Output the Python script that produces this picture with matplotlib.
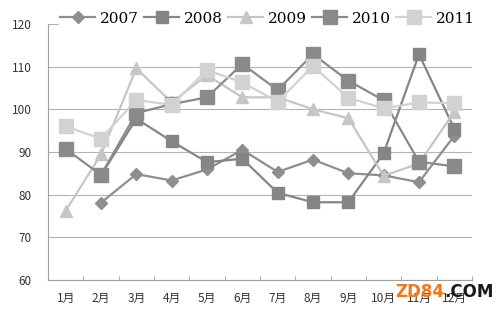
import numpy as np
import matplotlib.pyplot as plt

plt.rcParams['font.family'] = ['Noto Sans CJK SC', 'DejaVu Sans']

months = ['1月', '2月', '3月', '4月', '5月', '6月', '7月', '8月', '9月', '10月', '11月', '12月']
nan = np.nan
s2007 = [nan, 78.1, 84.8, 83.3, 85.9, 90.5, 85.3, 88.2, 85.0, 84.5, 82.9, 93.8]
s2008 = [nan, 84.5, 97.8, 92.5, 87.6, 88.4, 80.4, 78.2, 78.2, 89.7, 112.9, 95.4]
s2009 = [76.2, 89.4, 109.6, 101.6, 108.0, 102.8, 102.8, 100.0, 97.9, 84.4, 87.3, 99.4]
s2010 = [90.7, 84.6, 99.1, 101.2, 102.8, 110.6, 104.5, 112.9, 106.7, 102.1, 87.7, 86.6]
s2011 = [96.0, 93.1, 102.2, 101.0, 109.2, 106.3, 101.8, 110.1, 102.7, 100.2, 101.6, 101.4]

fig = plt.figure(figsize=(5, 3.11), dpi=100, facecolor='w')
ax = fig.add_axes([0.096, 0.1, 0.848, 0.823])
x = np.arange(len(months))

ax.plot(x, s2007, '-', color='#8e8e8e', lw=1.6, marker='D', ms=6, label='2007')
ax.plot(x, s2008, '-', color='#858585', lw=1.6, marker='s', ms=8, label='2008')
ax.plot(x, s2009, '-', color='#c6c6c6', lw=1.6, marker='^', ms=8, label='2009')
ax.plot(x, s2010, '-', color='#8a8a8a', lw=1.6, marker='s', ms=10, label='2010')
ax.plot(x, s2011, '-', color='#d2d2d2', lw=1.6, marker='s', ms=10, label='2011')

ax.set_xlim(-0.5, 11.5)
ax.set_ylim(60, 120)
ax.set_yticks(range(60, 121, 10))
ax.yaxis.grid(True, color='#b4b4b4', lw=0.8)
ax.set_axisbelow(True)
ax.set_xticks(x)
ax.set_xticklabels(months, fontsize=8.5, color='#333333')
ax.set_xticks(np.arange(-0.5, 12, 1), minor=True)
ax.tick_params(axis='x', which='major', length=0, pad=9)
ax.tick_params(axis='x', which='minor', length=3, direction='in', color='#999999')
ax.tick_params(axis='y', length=0, pad=12, labelsize=8.5, labelcolor='#333333')
for s in ['top', 'right']:
    ax.spines[s].set_visible(False)
ax.spines['left'].set_color('#a0a0a0')
ax.spines['bottom'].set_color('#a0a0a0')

leg = ax.legend(loc='center left', bbox_to_anchor=(0.025, 1.02), ncol=5, frameon=True,
                prop={'family': 'DejaVu Serif', 'size': 11}, handlelength=2.3,
                columnspacing=0.35, handletextpad=0.3, borderpad=0.1, borderaxespad=0,
                fancybox=False, edgecolor='w', facecolor='w', framealpha=1)

# watermark
t1 = fig.text(395 / 500, 1 - 292 / 311, 'ZD84', color='#f07818', fontsize=12,
              fontweight='bold', family='DejaVu Sans', va='center')
fig.canvas.draw()
bb = t1.get_window_extent()
fig.text(bb.x1 / 500, 1 - 292 / 311, '.COM', color='#1a1a1a', fontsize=12,
         fontweight='bold', family='DejaVu Sans', va='center')

plt.savefig('out.png', dpi=100)
